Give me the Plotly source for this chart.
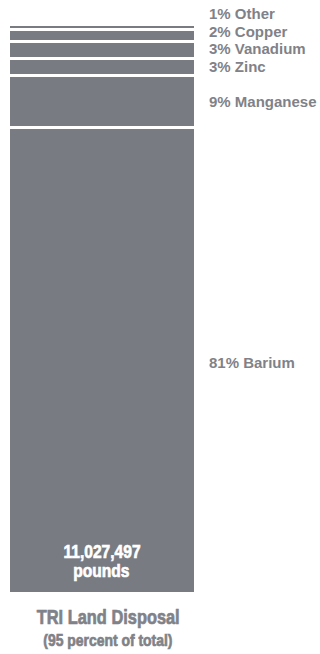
import json
import plotly.graph_objects as go

# Data (percent of TRI land disposal, bottom to top)
metals = ["Barium", "Manganese", "Zinc", "Vanadium", "Copper", "Other"]
percents = [81, 9, 3, 3, 2, 1]
total_pounds = "11,027,497"
unit_label = "pounds"
title_main = "TRI Land Disposal"
title_sub = "(95 percent of total)"

# Label vertical nudges (pixels) for the crowded top labels, bottom->top order
label_yshift = [-2, 0, 1, 1, 4, 13]

BAR = "#787c82"
TXT = "#7f8288"
SANS = "Liberation Sans, Arial, Helvetica, sans-serif"

fig = go.Figure()
for m, p in zip(metals, percents):
    fig.add_trace(go.Bar(
        x=[0], y=[p], name=m, width=1,
        marker=dict(color=BAR, line=dict(color="white", width=3)),
        hoverinfo="skip", showlegend=False,
    ))

annotations = []
cum = 0
for m, p, ys in zip(metals, percents, label_yshift):
    mid = cum + p / 2
    cum += p
    annotations.append(dict(
        xref="paper", x=1, xanchor="left", xshift=12,
        yref="y", y=mid, yanchor="middle", yshift=ys,
        text=f"{p}% {m}", showarrow=False,
        font=dict(family=SANS, size=15, color=TXT, weight="bold"),
    ))

annotations += [
    dict(xref="x", x=0, yref="paper", y=0, yanchor="middle", yshift=42,
         text=total_pounds, showarrow=False,
         font=dict(family=SANS, size=19, color="white", weight="bold")),
    dict(xref="x", x=0, yref="paper", y=0, yanchor="middle", yshift=23,
         text=unit_label, showarrow=False,
         font=dict(family=SANS, size=19, color="white", weight="bold")),
    dict(xref="paper", x=0.5, xshift=6, yref="paper", y=0, yanchor="middle", yshift=-24,
         text=title_main, showarrow=False,
         font=dict(family=SANS, size=20, color=TXT, weight="bold")),
    dict(xref="paper", x=0.5, xshift=6, yref="paper", y=0, yanchor="middle", yshift=-47,
         text=title_sub, showarrow=False,
         font=dict(family=SANS, size=17, color=TXT, weight="bold")),
]

fig.update_layout(
    width=320, height=654,
    margin=dict(l=8, r=125, t=24, b=61),
    barmode="stack",
    paper_bgcolor="white", plot_bgcolor="white",
    xaxis=dict(range=[-0.5, 0.5], visible=False, fixedrange=True),
    yaxis=dict(range=[0, sum(percents)], visible=False, fixedrange=True),
    annotations=annotations,
)

narrow_texts = json.dumps([total_pounds, unit_label, title_main, title_sub])
post = """
document.body.style.margin='0';
var gd = document.getElementById('{plot_id}');
var NARROW = %s;
function squeeze(){
  gd.querySelectorAll('text.annotation-text').forEach(function(t){
    if (NARROW.indexOf(t.textContent) >= 0) {
      t.style.transformBox = 'fill-box';
      t.style.transformOrigin = 'center';
      t.style.transform = 'scaleX(0.82)';
      t.style.stroke = t.style.fill || window.getComputedStyle(t).fill;
      t.style.strokeWidth = '0.7px';
      t.style.paintOrder = 'stroke fill';
    }
  });
}
squeeze();
if (gd.on) { gd.on('plotly_afterplot', squeeze); }
setTimeout(squeeze, 50);
""" % narrow_texts

fig.write_html("out.html", config={"displayModeBar": False}, post_script=post)
